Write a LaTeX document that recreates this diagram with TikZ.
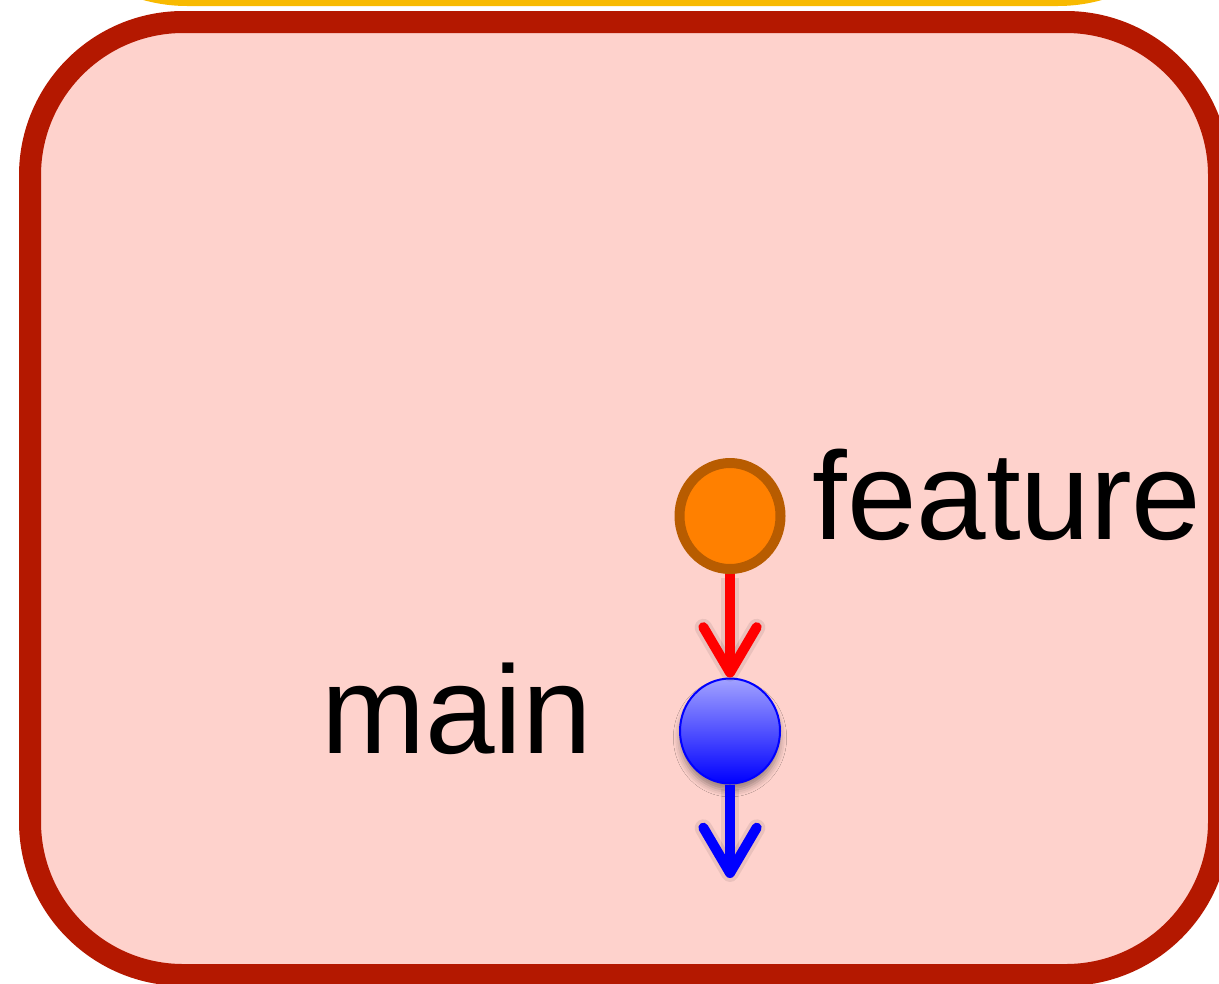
\documentclass[tikz,border=0pt]{standalone}
\usepackage{fontspec}
\setmainfont{Liberation Sans}
\usetikzlibrary{arrows.meta,shapes.geometric,shadows.blur}
\definecolor{boxred}{RGB}{180,24,0}
\definecolor{boxfill}{RGB}{254,210,204}
\definecolor{topyellow}{RGB}{248,186,0}
\definecolor{featfill}{RGB}{255,128,0}
\definecolor{featdraw}{RGB}{184,92,0}
\definecolor{mainlight}{RGB}{162,162,255}
\tikzset{
  frame/.style={line width=16.5pt, rounded corners=115pt},
  featnode/.style={ellipse, draw=featdraw, fill=featfill, line width=7.5pt,
    minimum width=75.75pt, minimum height=79.5pt, inner sep=0pt},
  mainnode/.style={ellipse, draw=blue, line width=1.5pt, top color=mainlight, bottom color=blue,
    minimum width=75pt, minimum height=78.75pt, inner sep=0pt,
    blur shadow={shadow xshift=0pt, shadow yshift=-5pt, shadow blur radius=5pt, shadow opacity=40}},
  label/.style={font=\fontsize{93.75pt}{100pt}\selectfont, inner sep=0pt, anchor=base west, text=black},
  conn/.style={line width=7.5pt, -{Straight Barb[length=34pt,width=40pt,round]},
    preaction={draw=black, draw opacity=0.08, line width=13pt, transform canvas={yshift=-3pt}}}
}
\begin{document}
\begin{tikzpicture}[x=0.75pt,y=-0.75pt]
\useasboundingbox (0,0) rectangle (1219,983);
\begin{scope}
\clip (0,0) rectangle (1219,983);
\draw[frame, draw=topyellow] (34,-1000) rectangle (1211,-5);
\draw[frame, draw=boxred, fill=boxfill] (30,22) rectangle (1219,975);
\end{scope}
\node[featnode] (feat) at (730,516) {};
\node[mainnode] (main) at (730,731) {};
\node[label] (featlabel) at (812,539) {feature};
\node[label] (mainlabel) at (321,753) {main};
\coordinate (out) at (730,878);
\draw[conn, red] (feat.south) -- (main.north);
\draw[conn, blue] (main.south) -- (out);
\end{tikzpicture}
\end{document}
